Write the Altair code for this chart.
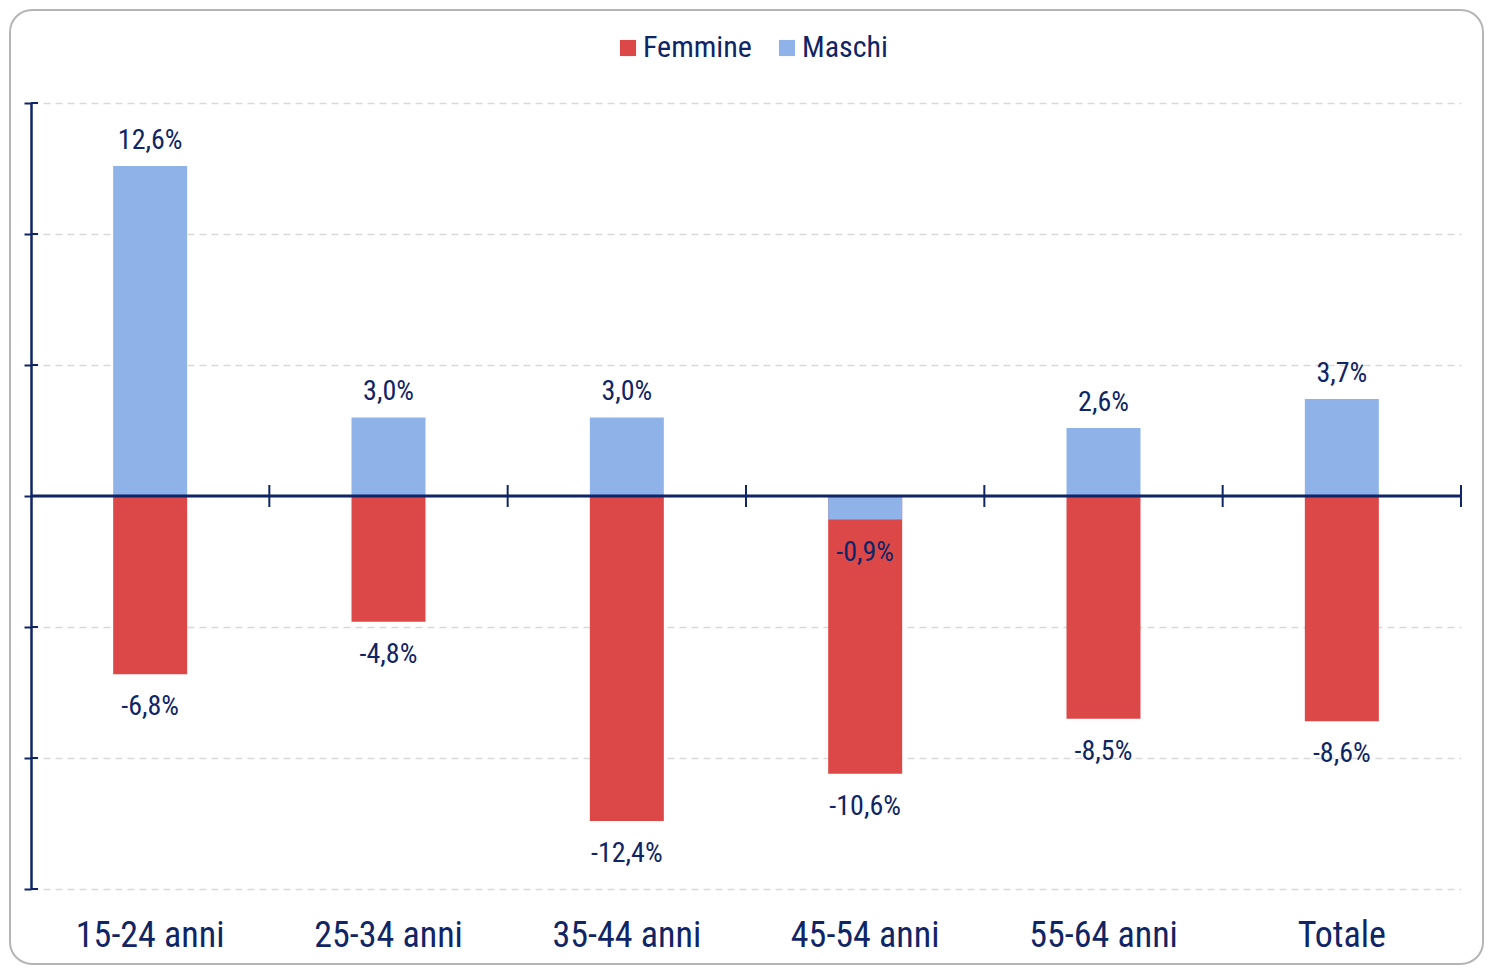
import altair as alt
import pandas as pd

categories = ["15-24 anni", "25-34 anni", "35-44 anni", "45-54 anni", "55-64 anni", "Totale"]
femmine = [-6.8, -4.8, -12.4, -10.6, -8.5, -8.6]
maschi = [12.6, 3.0, 3.0, -0.9, 2.6, 3.7]
series = ["Femmine", "Maschi"]
colors = ["#dc4848", "#8fb3e8"]
y_ticks = [-15, -10, -5, 0, 5, 10, 15]

NAVY = "#0f2566"
FONT = "Liberation Sans Narrow, Arial Narrow, Roboto Condensed, DejaVu Sans Condensed, sans-serif"

def fmt(v):
    return f"{v:.1f}".replace(".", ",") + "%"

rows = []
for s, vals in zip(series, [femmine, maschi]):
    for c, v in zip(categories, vals):
        rows.append({"cat": c, "serie": s, "v": v, "label": fmt(v), "ord": series.index(s)})
df = pd.DataFrame(rows)

W, H = 1430, 786

xenc = alt.X("cat:N", sort=categories,
             scale=alt.Scale(paddingInner=0, paddingOuter=0),
             axis=alt.Axis(title=None, domain=False, ticks=False, grid=False,
                           labelFontSize=36, labelFont=FONT, labelColor=NAVY,
                           labelPadding=29, labelAngle=0))
yscale = alt.Scale(domain=[-15, 15], nice=False, zero=False)
yenc = alt.Y("v:Q", scale=yscale,
             axis=alt.Axis(title=None, labels=False, values=y_ticks,
                           domain=True, domainColor=NAVY, domainWidth=2.5,
                           ticks=True, tickColor=NAVY, tickWidth=2, tickSize=7,
                           grid=True, gridColor="#d9d9d9", gridDash=[7, 5], gridWidth=1.5))
color = alt.Color("serie:N", scale=alt.Scale(domain=series, range=colors),
                  legend=alt.Legend(title=None, orient="none", direction="horizontal",
                                    legendX=582, legendY=-70,
                                    labelFont=FONT, labelFontSize=30, labelColor=NAVY,
                                    symbolType="square", symbolSize=260,
                                    symbolStrokeWidth=0, columnPadding=20, labelOffset=0))

base = alt.Chart(df)

bars_f = base.transform_filter(alt.datum.serie == "Femmine").mark_bar(size=74).encode(
    x=xenc, y=yenc, y2=alt.datum(0), color=color)
bars_m = base.transform_filter(alt.datum.serie == "Maschi").mark_bar(size=74).encode(
    x=xenc, y=yenc, y2=alt.datum(0), color=color)

ticks_df = pd.DataFrame({"t": y_ticks})
ytick_right = alt.Chart(ticks_df).mark_rule(color=NAVY, strokeWidth=2).encode(
    y=alt.Y("t:Q", scale=yscale), x=alt.value(0), x2=alt.value(7))

zero = alt.Chart(pd.DataFrame({"z": [0]})).mark_rule(color=NAVY, strokeWidth=3).encode(
    y=alt.Y("z:Q", scale=yscale))

cat_df = pd.DataFrame({"cat": categories})
xticks = alt.Chart(cat_df).mark_rule(color=NAVY, strokeWidth=2).encode(
    x=alt.X("cat:N", sort=categories, bandPosition=1),
    y=alt.datum(-0.42), y2=alt.datum(0.42))

pos_labels = base.transform_filter(alt.datum.v > 0).mark_text(
    font=FONT, fontSize=28, color=NAVY, baseline="middle", dy=-25).encode(
    x=alt.X("cat:N", sort=categories), y=alt.Y("v:Q", scale=yscale), text="label:N")
neg_labels = base.transform_filter(alt.datum.v < 0).mark_text(
    font=FONT, fontSize=28, color=NAVY, baseline="middle", dy=33).encode(
    x=alt.X("cat:N", sort=categories), y=alt.Y("v:Q", scale=yscale), text="label:N")

border = alt.Chart(pd.DataFrame({"b": [0]})).mark_rect(
    fill=None, fillOpacity=0, stroke="#b5b5b5", strokeWidth=2, cornerRadius=22).encode(
    x=alt.value(-21), x2=alt.value(W + 22), y=alt.value(-93), y2=alt.value(H + 75))

chart = alt.layer(border, bars_f, bars_m, zero, xticks, ytick_right, pos_labels, neg_labels).properties(
    width=W, height=H,
    autosize=alt.AutoSizeParams(type="none"),
    padding={"left": 23, "top": 95, "right": 23, "bottom": 77},
    background="white",
).configure_view(stroke=None)

chart.save("out.html", embed_options={"renderer": "svg", "actions": False})
